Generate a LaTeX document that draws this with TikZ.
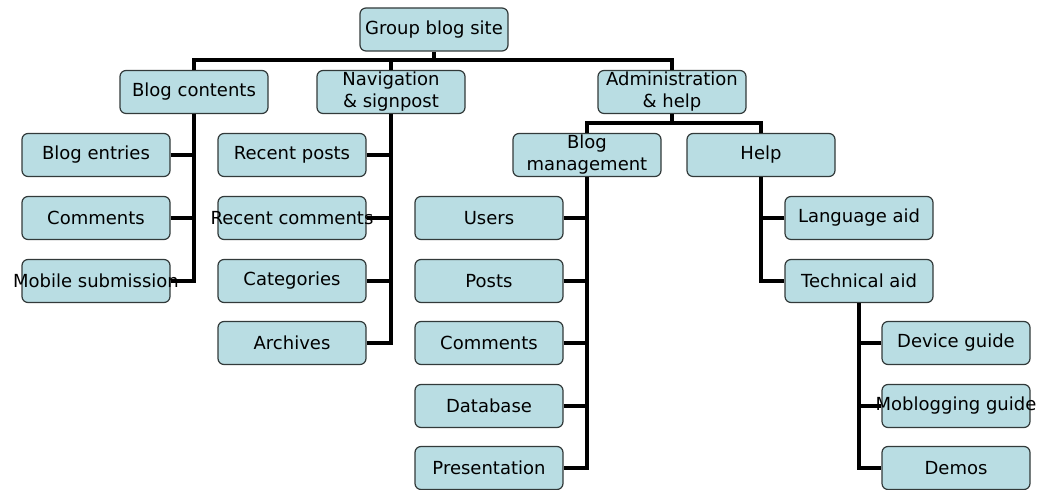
\documentclass[tikz,border=0pt]{standalone}
\usepackage{fontspec}
\setmainfont{DejaVu Sans}
\usepackage{tikz}

\definecolor{boxfill}{RGB}{185,221,227}
\definecolor{boxline}{RGB}{50,58,58}
\newcommand{\spill}[1]{\makebox[0pt]{#1}}

\tikzset{
  box/.style={draw=boxline, line width=0.6pt, fill=boxfill, rounded corners=3pt,
    minimum width=74pt, minimum height=21.5pt, inner sep=0pt, align=center,
    font=\fontsize{9}{11}\selectfont},
  link/.style={line width=2pt, black}
}

\begin{document}
\begin{tikzpicture}[x=0.5pt,y=-0.5pt]
\useasboundingbox (0,0) rectangle (1044,490);
\path (434,29.5) node[box] (site) {Group blog site}
		(194,92) node[box] (blog) {Blog contents}
		(391,92) node[box] (nav) {Navigation\\\& signpost}
		(672,92) node[box] (admin) {Administration\\\& help}
		(96,155) node[box] (entries) {Blog entries}
		(96,218) node[box] (bcomm) {Comments}
		(96,281) node[box] (mobile) {\spill{Mobile submission}}
		(292,155) node[box] (recent) {Recent posts}
		(292,218) node[box] (rcomm) {\spill{Recent comments}}
		(292,281) node[box] (cats) {Categories}
		(292,343) node[box] (arch) {Archives}
		(587,155) node[box] (mgmt) {Blog\\management}
		(761,155) node[box] (help) {Help}
		(489,218) node[box] (users) {Users}
		(489,281) node[box] (posts) {Posts}
		(489,343) node[box] (mcomm) {Comments}
		(489,406) node[box] (dbase) {Database}
		(489,468) node[box] (pres) {Presentation}
		(859,218) node[box] (lang) {Language aid}
		(859,281) node[box] (tech) {Technical aid}
		(956,343) node[box] (device) {Device guide}
		(956,406) node[box] (moblog) {\spill{Moblogging guide}}
		(956,468) node[box] (demos) {Demos}
		;
\coordinate (bar) at (434,60);
\coordinate (abar) at (672,123);
\draw[link] (site.south) -- (bar);
\draw[link] (blog.north) |- (bar) -| (admin.north);
\draw[link] (nav.north) -- (nav.north |- bar);
\draw[link] (admin.south) -- (abar);
\draw[link] (mgmt.north) |- (abar) -| (help.north);
\draw[link] (blog.south) |- (mobile.east);
\foreach \c in {entries,bcomm} \draw[link] (\c.east) -- (\c.east -| blog.south);
\draw[link] (nav.south) |- (arch.east);
\foreach \c in {recent,rcomm,cats} \draw[link] (\c.east) -- (\c.east -| nav.south);
\draw[link] (mgmt.south) |- (pres.east);
\foreach \c in {users,posts,mcomm,dbase} \draw[link] (\c.east) -- (\c.east -| mgmt.south);
\draw[link] (help.south) |- (tech.west);
\draw[link] (lang.west) -- (lang.west -| help.south);
\draw[link] (tech.south) |- (demos.west);
\foreach \c in {device,moblog} \draw[link] (\c.west) -- (\c.west -| tech.south);
\end{tikzpicture}
\end{document}
